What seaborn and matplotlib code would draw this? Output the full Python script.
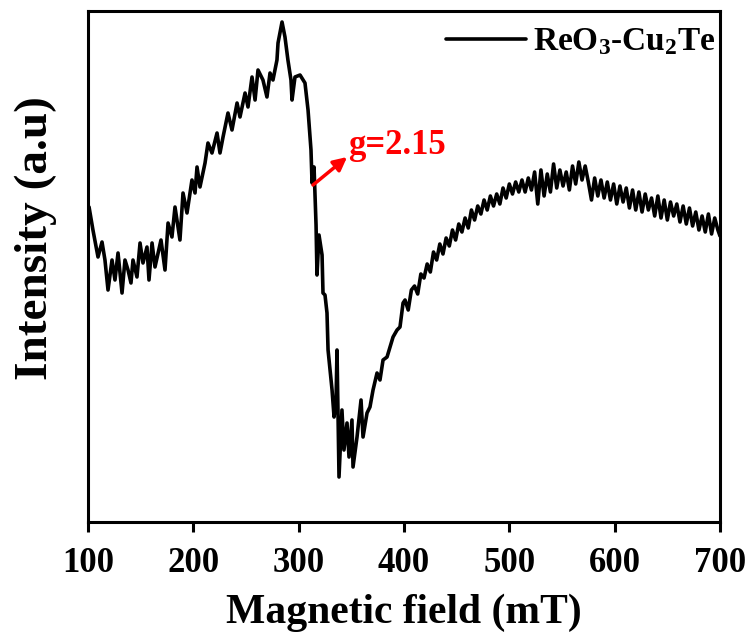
import numpy as np
import pandas as pd
import matplotlib
matplotlib.use("Agg")
import matplotlib.pyplot as plt
import seaborn as sns

field = [101.0, 104.7, 109.5, 113.3, 116.1, 119.0, 122.8, 125.6, 128.5, 132.3,
         135.1, 138.0, 140.8, 142.7, 146.5, 149.4, 152.2, 156.0, 157.9, 160.8,
         163.6, 166.5, 169.3, 173.1, 176.0, 179.7, 182.6, 187.3, 190.2, 194.0,
         198.7, 201.6, 203.5, 206.3, 211.1, 213.9, 217.7, 222.5, 225.3, 228.2,
         232.9, 236.7, 241.5, 244.3, 249.1, 251.9, 255.7, 258.6, 261.4, 266.1,
         269.9, 272.8, 275.6, 279.4, 280.4, 284.2, 287.0, 289.8, 292.7, 293.7,
         296.5, 301.3, 306.0, 308.9, 311.7, 312.7, 314.6, 316.5, 317.4, 319.3,
         322.2, 323.1, 325.0, 326.9, 327.9, 331.7, 333.6, 335.5, 336.4, 337.4,
         338.3, 341.1, 343.0, 345.9, 347.8, 350.6, 351.6, 355.4, 359.2, 361.1,
         364.9, 367.7, 370.6, 374.4, 377.2, 380.1, 383.9, 386.7, 389.6, 393.4,
         396.2, 399.1,
         401, 404, 407, 410, 413, 416, 419, 422, 425, 428,
         431, 434, 437, 440, 443, 446, 449, 452, 455, 458,
         461, 464, 467, 470, 473, 476, 479, 482, 485, 488,
         491, 494, 497, 500, 503, 506, 509, 512, 515, 518,
         521, 524, 527, 530, 533, 536, 539, 542, 545, 548,
         551, 554, 557, 560, 563, 566, 569, 572, 575, 578,
         581, 584, 587, 590, 593, 596, 599, 602, 605, 608,
         611, 614, 617, 620, 623, 626, 629, 632, 635, 638,
         641, 644, 647, 650, 653, 656, 659, 662, 665, 668,
         671, 674, 677, 680, 683, 686, 689, 692, 695, 698, 700]

intensity = [315, 292, 265, 280, 262, 232, 262, 242, 269, 229,
             262, 252, 239, 262, 245, 279, 259, 275, 242, 279,
             255, 269, 282, 252, 299, 285, 315, 282, 329, 309,
             342, 329, 355, 335, 359, 379, 369, 389, 369, 385,
             409, 392, 419, 405, 429, 415, 445, 422, 452, 442,
             425, 449, 442, 462, 479, 500, 485, 462, 442, 422,
             445, 447, 439, 412, 372, 339, 355, 297, 247, 287,
             267, 229, 227, 209, 172, 132, 105, 122, 172, 105,
             45, 112, 72, 99, 65, 102, 55, 85, 122, 85,
             109, 115, 132, 149, 142, 162, 165, 175, 185, 192,
             195, 219,
             222, 212, 232, 236, 228, 248, 244, 258, 250, 270,
             262, 278, 268, 284, 276, 292, 282, 298, 290, 304,
             294, 312, 302, 316, 308, 322, 312, 326, 316, 328,
             318, 334, 324, 338, 328, 340, 330, 342, 330, 344,
             332, 350, 318, 352, 326, 348, 330, 358, 334, 352,
             336, 350, 332, 356, 338, 360, 342, 356, 340, 322,
             344, 326, 342, 324, 340, 322, 338, 318, 336, 320,
             334, 314, 332, 312, 330, 310, 328, 312, 324, 306,
             326, 304, 322, 302, 320, 306, 318, 300, 316, 298,
             314, 296, 310, 292, 306, 290, 308, 288, 304, 292, 286]

x_ticks = [100, 200, 300, 400, 500, 600, 700]
series_label = r"ReO$_3$-Cu$_2$Te"
annotation_text = "g=2.15"

sns.set_style("ticks")
plt.rcParams["font.family"] = ["Liberation Serif", "DejaVu Serif"]
plt.rcParams["font.weight"] = "bold"
plt.rcParams["text.color"] = "black"
plt.rcParams["axes.labelcolor"] = "black"
plt.rcParams["xtick.color"] = "black"
plt.rcParams["ytick.color"] = "black"
plt.rcParams["mathtext.fontset"] = "custom"
plt.rcParams["mathtext.rm"] = "Liberation Serif:bold"
plt.rcParams["mathtext.it"] = "Liberation Serif:bold:italic"
plt.rcParams["mathtext.bf"] = "Liberation Serif:bold"

df = pd.DataFrame({"field": field, "intensity": intensity})

fig = plt.figure(figsize=(7.52, 6.40), dpi=100)
ax = fig.add_axes([88 / 752, 1 - 522 / 640, (720 - 88) / 752, (522 - 11) / 640])

sns.lineplot(data=df, x="field", y="intensity", color="black", lw=2.6,
             estimator=None, label=series_label, ax=ax)

ax.set_xlim(100, 700)
ax.set_ylim(0, 511)
ax.set_xticks(x_ticks)
ax.set_xticklabels([str(t) for t in x_ticks])
ax.set_yticks([])
for s in ax.spines.values():
    s.set_linewidth(2.2)
    s.set_color("black")
ax.tick_params(axis="x", direction="out", length=7, width=2.2, labelsize=25,
               pad=11, colors="black")

ax.set_xlabel("Magnetic field (mT)", fontsize=30, fontweight="bold", labelpad=10)
ax.set_ylabel("Intensity (a.u)", fontsize=34, fontweight="bold")
ax.yaxis.set_label_coords(-0.049, 0.556)

# arrow from the curve towards the label
ax.annotate("", xy=(346.0, 365), xytext=(313.6, 337),
            arrowprops=dict(arrowstyle="-|>", color="red", lw=2.5,
                            mutation_scale=20, shrinkA=0, shrinkB=0))
ax.text(346.5, 377, annotation_text, color="red", fontsize=25,
        fontweight="bold", va="center", ha="left")

leg = ax.legend(loc="upper right", bbox_to_anchor=(1.024, 1.009), frameon=False,
                fontsize=24, handlelength=2.4, handletextpad=0.2,
                borderaxespad=0.2)
for t in leg.get_texts():
    t.set_fontweight("bold")
    t.set_color("black")

fig.savefig("out.png", dpi=100)
